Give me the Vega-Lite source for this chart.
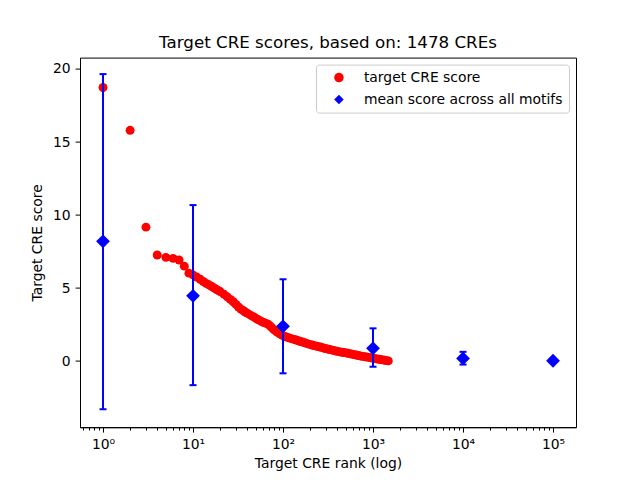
{
  "$schema": "https://vega.github.io/schema/vega-lite/v6.json",
  "width": 496,
  "height": 369.6,
  "autosize": "none",
  "padding": {"left": 80, "top": 57.6, "right": 64, "bottom": 52.8},
  "background": "white",
  "config": {
    "font": "DejaVu Sans",
    "view": {"stroke": "black", "strokeWidth": 1},
    "axis": {
      "grid": false,
      "domainColor": "black",
      "tickColor": "black",
      "labelColor": "black",
      "titleColor": "black",
      "labelFont": "DejaVu Sans",
      "titleFont": "DejaVu Sans",
      "labelFontSize": 13.9,
      "titleFontSize": 13.9,
      "titleFontWeight": "normal",
      "tickSize": 4.9,
      "labelPadding": 4.9
    }
  },
  "title": {
    "text": "Target CRE scores, based on: 1478 CREs",
    "font": "DejaVu Sans",
    "fontSize": 16.7,
    "fontWeight": "normal",
    "color": "black",
    "anchor": "middle",
    "offset": 6
  },
  "datasets": {
    "cre": [
      {"rank": 1, "score": 18.73}, {"rank": 2, "score": 15.8}, {"rank": 3, "score": 9.17},
      {"rank": 4, "score": 7.26}, {"rank": 5, "score": 7.10}, {"rank": 6, "score": 7.03},
      {"rank": 7, "score": 6.92}, {"rank": 8, "score": 6.50}, {"rank": 9, "score": 6.02},
      {"rank": 10, "score": 5.90}, {"rank": 11, "score": 5.75}, {"rank": 12, "score": 5.60},
      {"rank": 13, "score": 5.45}, {"rank": 14, "score": 5.32}, {"rank": 15, "score": 5.22},
      {"rank": 16, "score": 5.12}, {"rank": 17, "score": 5.02}, {"rank": 18, "score": 4.92},
      {"rank": 19, "score": 4.84}, {"rank": 20, "score": 4.76}, {"rank": 22, "score": 4.58},
      {"rank": 24, "score": 4.40}, {"rank": 26, "score": 4.22}, {"rank": 28, "score": 4.06},
      {"rank": 30, "score": 3.88}, {"rank": 32, "score": 3.70}, {"rank": 34, "score": 3.56},
      {"rank": 36, "score": 3.46}, {"rank": 38, "score": 3.36}, {"rank": 40, "score": 3.28},
      {"rank": 43, "score": 3.16}, {"rank": 46, "score": 3.06}, {"rank": 49, "score": 2.96},
      {"rank": 52, "score": 2.86}, {"rank": 55, "score": 2.78}, {"rank": 58, "score": 2.70},
      {"rank": 61, "score": 2.64}, {"rank": 65, "score": 2.58}, {"rank": 69, "score": 2.50},
      {"rank": 73, "score": 2.36}, {"rank": 77, "score": 2.22}, {"rank": 81, "score": 2.10},
      {"rank": 86, "score": 1.98}, {"rank": 91, "score": 1.88}, {"rank": 96, "score": 1.80},
      {"rank": 101, "score": 1.72}, {"rank": 107, "score": 1.66}, {"rank": 113, "score": 1.62},
      {"rank": 119, "score": 1.57}, {"rank": 126, "score": 1.52}, {"rank": 133, "score": 1.48},
      {"rank": 140, "score": 1.44}, {"rank": 148, "score": 1.39}, {"rank": 156, "score": 1.34},
      {"rank": 165, "score": 1.30}, {"rank": 174, "score": 1.25}, {"rank": 183, "score": 1.21},
      {"rank": 193, "score": 1.16}, {"rank": 204, "score": 1.12}, {"rank": 215, "score": 1.08},
      {"rank": 227, "score": 1.04}, {"rank": 239, "score": 1.01}, {"rank": 252, "score": 0.98},
      {"rank": 266, "score": 0.94}, {"rank": 280, "score": 0.90}, {"rank": 295, "score": 0.86},
      {"rank": 311, "score": 0.83}, {"rank": 328, "score": 0.79}, {"rank": 346, "score": 0.76},
      {"rank": 365, "score": 0.73}, {"rank": 385, "score": 0.69}, {"rank": 406, "score": 0.66},
      {"rank": 428, "score": 0.63}, {"rank": 451, "score": 0.60}, {"rank": 475, "score": 0.58},
      {"rank": 501, "score": 0.56}, {"rank": 528, "score": 0.53}, {"rank": 556, "score": 0.50},
      {"rank": 586, "score": 0.47}, {"rank": 618, "score": 0.44}, {"rank": 651, "score": 0.41},
      {"rank": 686, "score": 0.38}, {"rank": 723, "score": 0.35}, {"rank": 762, "score": 0.32},
      {"rank": 803, "score": 0.30}, {"rank": 846, "score": 0.28}, {"rank": 892, "score": 0.25},
      {"rank": 940, "score": 0.23}, {"rank": 991, "score": 0.20}, {"rank": 1044, "score": 0.18},
      {"rank": 1100, "score": 0.15}, {"rank": 1159, "score": 0.12}, {"rank": 1221, "score": 0.10},
      {"rank": 1287, "score": 0.08}, {"rank": 1356, "score": 0.05}, {"rank": 1420, "score": 0.03},
      {"rank": 1478, "score": 0.01}
    ],
    "motif": [
      {"rank": 1, "mean": 8.2, "lo": -3.3, "hi": 19.65},
      {"rank": 10, "mean": 4.47, "lo": -1.65, "hi": 10.68},
      {"rank": 100, "mean": 2.38, "lo": -0.84, "hi": 5.6},
      {"rank": 1000, "mean": 0.87, "lo": -0.39, "hi": 2.24},
      {"rank": 10000, "mean": 0.18, "lo": -0.24, "hi": 0.63},
      {"rank": 100000, "mean": 0.02, "lo": -0.02, "hi": 0.06}
    ]
  },
  "resolve": {"axis": {"x": "independent"}},
  "layer": [
    {
      "data": {"values": [{"v": 0.6}, {"v": 0.7}, {"v": 0.8}, {"v": 0.9}]},
      "mark": {"type": "tick", "opacity": 0},
      "encoding": {
        "x": {
          "field": "v", "type": "quantitative",
          "scale": {"type": "log", "domain": [0.555, 180000], "nice": false},
          "axis": {
            "orient": "bottom",
            "title": null,
            "labels": false,
            "domain": false,
            "tickSize": 2.8,
            "values": [0.6, 0.7, 0.8, 0.9, 2, 3, 4, 5, 6, 7, 8, 9, 20, 30, 40, 50, 60, 70, 80, 90, 200, 300, 400, 500, 600, 700, 800, 900, 2000, 3000, 4000, 5000, 6000, 7000, 8000, 9000, 20000, 30000, 40000, 50000, 60000, 70000, 80000, 90000]
          }
        }
      }
    },
    {
      "layer": [
        {
          "data": {"name": "cre"},
          "transform": [{"calculate": "'target CRE score'", "as": "series"}],
          "mark": {"type": "point", "filled": true, "size": 80, "opacity": 1},
          "encoding": {
            "x": {"field": "rank", "type": "quantitative"},
            "y": {"field": "score", "type": "quantitative"},
            "color": {"field": "series", "type": "nominal"},
            "shape": {"field": "series", "type": "nominal"}
          }
        },
        {
          "data": {"name": "motif"},
          "mark": {"type": "rule", "color": "blue", "strokeWidth": 2},
          "encoding": {
            "x": {"field": "rank", "type": "quantitative"},
            "y": {"field": "lo", "type": "quantitative"},
            "y2": {"field": "hi"}
          }
        },
        {
          "data": {"name": "motif"},
          "mark": {"type": "tick", "orient": "horizontal", "color": "blue", "size": 7, "thickness": 2, "opacity": 1},
          "encoding": {
            "x": {"field": "rank", "type": "quantitative"},
            "y": {"field": "lo", "type": "quantitative"}
          }
        },
        {
          "data": {"name": "motif"},
          "mark": {"type": "tick", "orient": "horizontal", "color": "blue", "size": 7, "thickness": 2, "opacity": 1},
          "encoding": {
            "x": {"field": "rank", "type": "quantitative"},
            "y": {"field": "hi", "type": "quantitative"}
          }
        },
        {
          "data": {"name": "motif"},
          "transform": [{"calculate": "'mean score across all motifs'", "as": "series"}],
          "mark": {"type": "point", "filled": true, "size": 190, "opacity": 1},
          "encoding": {
            "x": {
              "field": "rank", "type": "quantitative",
              "axis": {
                "orient": "bottom",
                "title": "Target CRE rank (log)",
                "values": [1, 10, 100, 1000, 10000, 100000],
                "labelExpr": "'10' + ['⁰','¹','²','³','⁴','⁵'][round(log(datum.value)/LN10)]",
                "titlePadding": 6
              }
            },
            "y": {
              "field": "mean", "type": "quantitative",
              "scale": {"domain": [-4.53, 20.78], "nice": false, "zero": false},
              "axis": {"title": "Target CRE score", "values": [0, 5, 10, 15, 20], "titlePadding": 8}
            },
            "color": {
              "field": "series", "type": "nominal",
              "scale": {"domain": ["target CRE score", "mean score across all motifs"], "range": ["red", "blue"]},
              "legend": {
                "title": null,
                "orient": "top-right",
                "offset": 7,
                "padding": 6,
                "strokeColor": "#cccccc",
                "fillColor": "white",
                "cornerRadius": 3,
                "labelFontSize": 13.9,
                "labelFont": "DejaVu Sans",
                "labelColor": "black",
                "labelLimit": 400,
                "symbolOffset": 10,
                "labelOffset": 18,
                "rowPadding": 7,
                "symbolSize": 90
              }
            },
            "shape": {
              "field": "series", "type": "nominal",
              "scale": {"domain": ["target CRE score", "mean score across all motifs"], "range": ["circle", "diamond"]}
            }
          }
        }
      ]
    }
  ]
}
